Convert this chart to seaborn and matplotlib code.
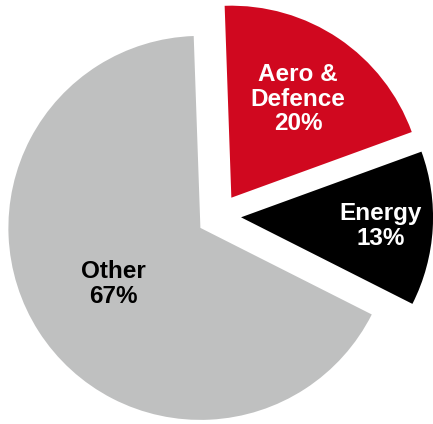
import numpy as np
import matplotlib
matplotlib.use("Agg")
import matplotlib.pyplot as plt
import seaborn as sns

# Data
labels = ["Aero &\nDefence", "Energy", "Other"]
values = [20, 13, 67]
pct_labels = ["20%", "13%", "67%"]
colors = ["#D0081F", "#000000", "#BFC0C0"]
text_colors = ["white", "white", "black"]
text_dist = [0.62, 0.73, 0.54]

sns.set_theme(style="white")
plt.rcParams['font.family'] = ['Liberation Sans', 'DejaVu Sans']

fig = plt.figure(figsize=(4.33, 4.24), dpi=100)
ax = fig.add_axes([0, 0, 1, 1])

wedges, _ = ax.pie(values, colors=colors, startangle=92, counterclock=False,
                   explode=[0.115] * len(values), radius=1.0,
                   wedgeprops=dict(linewidth=0))

for w, lab, pct, tc, d in zip(wedges, labels, pct_labels, text_colors, text_dist):
    mid = np.deg2rad((w.theta1 + w.theta2) / 2)
    cx, cy = w.center
    x = cx + d * w.r * np.cos(mid)
    y = cy + d * w.r * np.sin(mid)
    ax.text(x, y, f"{lab}\n{pct}", ha="center", va="center", color=tc,
            fontsize=17.5, fontweight="bold", linespacing=1.1)

R = 192.0
ax.set_xlim(-219 / R, 214 / R)
ax.set_ylim(-208 / R, 216 / R)
ax.set_aspect("equal")
ax.axis("off")

fig.savefig("out.png", dpi=100, facecolor="white")
